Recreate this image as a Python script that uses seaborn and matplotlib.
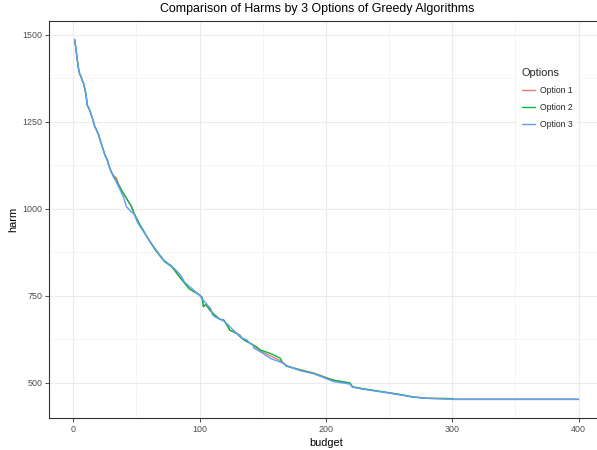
import matplotlib
matplotlib.use("Agg")
import matplotlib.pyplot as plt
import numpy as np
import pandas as pd
import seaborn as sns
from matplotlib.ticker import MultipleLocator
from matplotlib.lines import Line2D

# ---- data ----
shared_budget = [1, 2, 3, 4, 5, 6, 7, 8, 10, 11, 13, 15, 17, 18, 20, 22, 23, 25, 27, 28, 30]
shared_harm = [1487, 1462, 1433, 1405, 1388, 1381, 1370, 1362, 1330, 1299, 1283, 1262,
               1237, 1230, 1213, 1189, 1178, 1155, 1140, 1126, 1107]

opt1_budget = [32, 34, 36, 38, 42, 46, 48, 52, 59, 65, 72, 78, 85, 92, 100, 102, 103, 105,
               108, 112, 116, 119, 120, 124, 129, 132, 133, 135, 140, 145, 148, 156, 165,
               169, 180, 190, 200, 206, 219, 221, 230, 248, 260, 269, 280, 300, 301, 400]
opt1_harm = [1095, 1090, 1070, 1056, 1031, 1007, 988, 959, 916, 882, 850, 834, 801, 770,
             753, 745, 720, 725, 710, 695, 683, 681, 676, 652, 643, 638, 630, 624, 614,
             601, 592, 578, 562, 549, 538, 529, 516, 508, 500, 489, 483, 473, 466, 460,
             456, 455, 453, 453]

opt2_budget = [32, 34, 36, 38, 42, 46, 48, 52, 59, 65, 72, 78, 85, 92, 100, 102, 103, 105,
               108, 112, 116, 119, 120, 124, 129, 132, 135, 140, 145, 148, 156, 164, 165,
               169, 180, 190, 200, 206, 219, 221, 230, 248, 260, 269, 280, 300, 301, 400]
opt2_harm = [1093, 1082, 1068, 1055, 1031, 1007, 988, 959, 916, 882, 850, 834, 801, 770,
             753, 745, 719, 726, 710, 695, 683, 681, 676, 652, 643, 633, 624, 614, 604,
             595, 585, 571, 561, 548, 537, 528, 515, 508, 500, 489, 483, 473, 466, 460,
             456, 455, 453, 453]

opt3_budget = [32, 34, 37, 40, 42, 45, 48, 51, 55, 59, 64, 68, 72, 78, 81, 85, 88, 92, 100,
               102, 106, 109, 110, 112, 116, 120, 125, 130, 132, 134, 137, 140, 142, 143,
               148, 156, 160, 165, 170, 180, 190, 200, 206, 219, 221, 230, 248, 260, 269,
               280, 301, 400]
opt3_harm = [1090, 1078, 1055, 1031, 1007, 995, 986, 960, 938, 916, 890, 870, 852, 836,
             825, 810, 790, 777, 752, 742, 725, 712, 697, 690, 684, 676, 658, 640, 636,
             628, 625, 614, 611, 600, 590, 571, 565, 559, 548, 535, 527, 513, 504, 497,
             488, 482, 472, 465, 459, 456, 453, 453]

option_names = ["Option 1", "Option 2", "Option 3"]
option_colors = ["#F8766D", "#00BA38", "#619CFF"]

x_ticks = [0, 100, 200, 300, 400]
y_ticks = [500, 750, 1000, 1250, 1500]

# ---- build long table ----
frames = []
for name, bx, hy in zip(option_names,
                        [opt1_budget, opt2_budget, opt3_budget],
                        [opt1_harm, opt2_harm, opt3_harm]):
    frames.append(pd.DataFrame({"budget": shared_budget + bx,
                                "harm": shared_harm + hy,
                                "Options": name}))
df = pd.concat(frames, ignore_index=True)

# ---- style ----
sns.set_style("white")
plt.rcParams["font.family"] = ["Liberation Sans", "DejaVu Sans"]

W, H = 597, 450
fig = plt.figure(figsize=(W / 100, H / 100), dpi=100)
left, right, top, bottom = 49.4, 603.7, 21.4, 417.8
ax = fig.add_axes([left / W, 1 - bottom / H, (right - left) / W, (bottom - top) / H])
ax.set_facecolor("white")

sns.lineplot(data=df, x="budget", y="harm", hue="Options", hue_order=option_names,
             palette=option_colors, estimator=None, sort=False, linewidth=1.0, ax=ax,
             legend=False)

ax.set_xlim(-18.95, 419.95)
ax.set_ylim(400, 1539)
ax.set_xticks(x_ticks)
ax.set_yticks(y_ticks)
ax.xaxis.set_minor_locator(MultipleLocator(50))
ax.yaxis.set_minor_locator(MultipleLocator(125))
ax.grid(True, which="major", color="#EBEBEB", linewidth=0.8)
ax.grid(True, which="minor", color="#F0F0F0", linewidth=0.45)
ax.set_axisbelow(True)
for s in ax.spines.values():
    s.set_color("#333333")
    s.set_linewidth(0.8)
ax.tick_params(which="major", length=3, width=0.6, color="#333333",
               labelsize=6.4, labelcolor="#4D4D4D", pad=2,
               bottom=True, left=True)
ax.tick_params(which="minor", length=0)

ax.set_xlabel("budget", fontsize=7.9, color="black", labelpad=3)
ax.set_ylabel("harm", fontsize=7.9, color="black", labelpad=3)

fig.text(317 / W, 1 - 9 / H, "Comparison of Harms by 3 Options of Greedy Algorithms",
         ha="center", va="center", fontsize=8.9, color="black")

# legend
handles = [Line2D([0], [0], color=c, linewidth=1.0) for c in option_colors]
leg = ax.legend(handles, option_names, title="Options", loc="upper left",
                bbox_to_anchor=(513 / W, 1 - 59 / H), bbox_transform=fig.transFigure,
                fontsize=6.2, title_fontsize=7.9, frameon=True, fancybox=False,
                facecolor="white", edgecolor="none", framealpha=1,
                handlelength=1.6, handletextpad=0.5, labelspacing=0.95,
                borderpad=0.5, alignment="left")

fig.savefig("out.png", dpi=100, facecolor="white")
